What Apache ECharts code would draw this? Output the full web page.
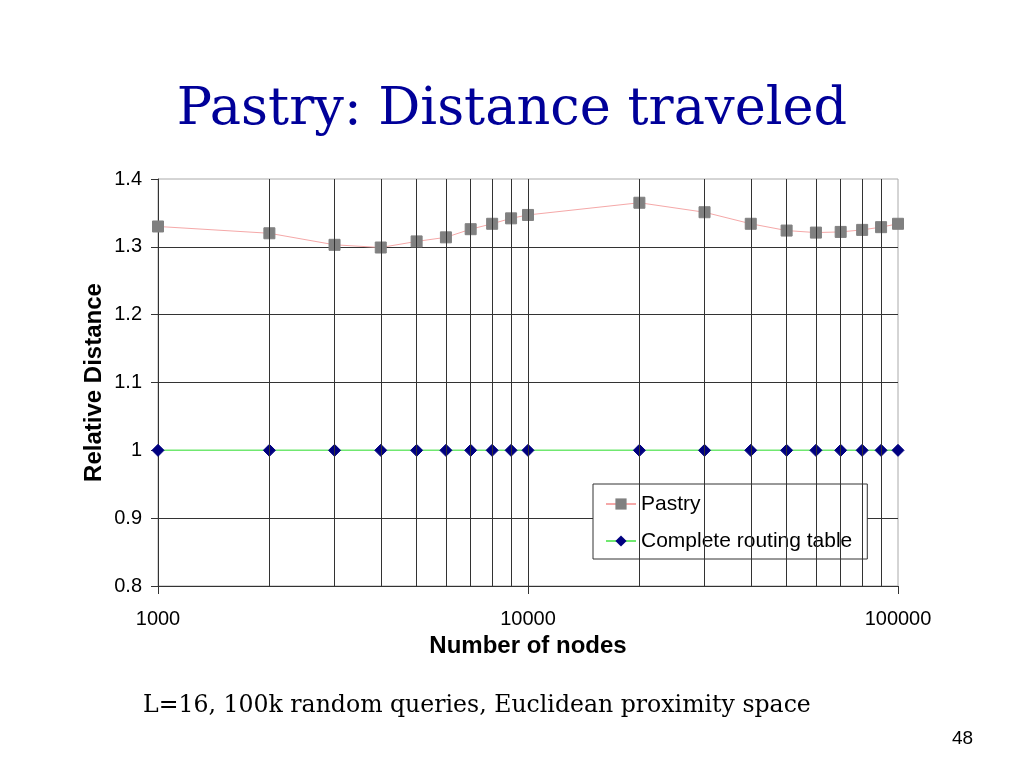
<!DOCTYPE html>
<html>
<head>
<meta charset="utf-8">
<script src="https://cdn.jsdelivr.net/npm/echarts@6/dist/echarts.min.js"></script>
<style>html,body{margin:0;padding:0;background:#fff}#c{width:1024px;height:768px}</style>
</head>
<body>
<div id="c"></div>
<script>
const nodes = [1000,2000,3000,4000,5000,6000,7000,8000,9000,10000,20000,30000,40000,50000,60000,70000,80000,90000,100000];
const pastry = [1.330,1.320,1.303,1.299,1.308,1.314,1.326,1.334,1.342,1.347,1.365,1.351,1.334,1.324,1.321,1.322,1.325,1.329,1.334];
const complete = [1,1,1,1,1,1,1,1,1,1,1,1,1,1,1,1,1,1,1];
const gridX = [2000,3000,4000,5000,6000,7000,8000,9000,10000,20000,30000,40000,50000,60000,70000,80000,90000];
const yTicks = {min:0.8, max:1.4, step:0.1};

const chart = echarts.init(document.getElementById('c'), null, {renderer:'canvas'});
chart.setOption({
  backgroundColor:'#fff',
  animation:false,
  title:[
    {text:'Pastry: Distance traveled', left:'center', top:79,
     textStyle:{fontFamily:'DejaVu Serif', fontSize:52.5, fontWeight:'normal', color:'#000099'}},
    {text:'L=16, 100k random queries, Euclidean proximity space', left:138, top:689,
     textStyle:{fontFamily:'DejaVu Serif', fontSize:23.6, fontWeight:'normal', color:'#000'}},
    {text:'48', left:947, top:724,
     textStyle:{fontFamily:'Liberation Sans', fontSize:19, fontWeight:'normal', color:'#000'}}
  ],
  grid:{left:158, right:126, top:179, height:407, show:true, borderColor:'#aaaaaa', borderWidth:1, backgroundColor:'transparent'},
  legend:{
    orient:'vertical', left:593, top:484,
    data:['Pastry','Complete routing table'],
    backgroundColor:'#fff', borderColor:'#333', borderWidth:1,
    padding:[9,15,7,12], itemWidth:30, itemHeight:14, itemGap:15,
    textStyle:{fontFamily:'Liberation Sans', fontSize:21, color:'#000', lineHeight:22}
  },
  xAxis:{
    type:'log', logBase:10, min:1000, max:100000,
    name:'Number of nodes', nameLocation:'middle', nameGap:48, nameMoveOverlap:false,
    nameTextStyle:{fontFamily:'Liberation Sans', fontSize:24, fontWeight:'bold', color:'#000'},
    axisLine:{lineStyle:{color:'#333', width:1}},
    axisTick:{show:true, length:8, lineStyle:{color:'#333'}},
    axisLabel:{margin:23, fontFamily:'Liberation Sans', fontSize:20, color:'#000', formatter:v=>String(Math.round(v))},
    splitLine:{show:false}
  },
  yAxis:{
    type:'value', min:yTicks.min, max:yTicks.max, interval:yTicks.step,
    name:'Relative Distance', nameLocation:'middle', nameGap:52, nameMoveOverlap:false,
    nameTextStyle:{fontFamily:'Liberation Sans', fontSize:24, fontWeight:'bold', color:'#000'},
    axisLine:{show:true, lineStyle:{color:'#333', width:1}},
    axisTick:{show:true, length:7, lineStyle:{color:'#333'}},
    axisLabel:{margin:16, fontFamily:'Liberation Sans', fontSize:20, color:'#000'},
    splitLine:{show:true, showMaxLine:false, lineStyle:{color:'#333', width:1}}
  },
  series:[
    {name:'grid', type:'line', data:[], z:1, silent:true,
     markLine:{silent:true, symbol:['none','none'], label:{show:false},
       lineStyle:{color:'#333', type:'solid', width:1},
       data:gridX.map(v=>({xAxis:v}))}},
    {name:'Pastry', type:'line', z:3, data:nodes.map((n,i)=>[n,pastry[i]]),
     symbol:'rect', symbolSize:11,
     lineStyle:{color:'#f5a8a8', width:1},
     itemStyle:{color:'#808080', borderColor:'#808080'}},
    {name:'Complete routing table', type:'line', z:3, data:nodes.map((n,i)=>[n,complete[i]]),
     symbol:'diamond', symbolSize:12,
     lineStyle:{color:'#70e870', width:1.5},
     itemStyle:{color:'#000080', borderColor:'#000080'}}
  ]
});
</script>
</body>
</html>
